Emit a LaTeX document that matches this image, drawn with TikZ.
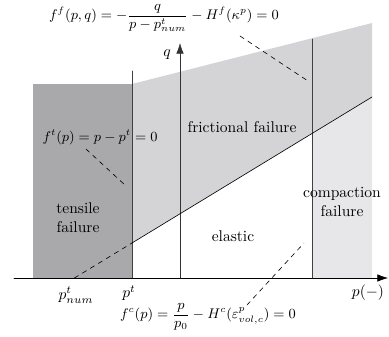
\documentclass[tikz,border=0pt]{standalone}
\usepackage{amsmath}
\usetikzlibrary{arrows.meta}
\definecolor{tensilegray}{RGB}{169,169,171}
\definecolor{frictgray}{RGB}{212,212,214}
\definecolor{compgray}{RGB}{231,231,233}
\begin{document}
\begin{tikzpicture}[>={Latex[length=2.4mm,width=1.7mm]}, x=0.226cm, y=0.226cm, line join=round, line cap=round]
	\tikzset{yieldfn/.style={font=\small, inner sep=1pt}}
	\def \xmin{-16.6}
	\def \xmax{20.8}
	\def \ymax{23.5}
	\useasboundingbox (-18,-5.8) rectangle (20.9,27.8);
	% failure zones
	\fill[tensilegray] (-14.7,0) rectangle (-4.8,19.4);
	\fill[frictgray] (-4.8,3.5) -- (-4.8,19.4) -- (19.2,25.5) -- (19.2,18.1) -- cycle;
	\fill[compgray] (13.2,0) -- (13.2,14.45) -- (19.2,18.1) -- (19.2,0) -- cycle;
	% axes
	\coordinate (pstart) at (\xmin,0);
	\coordinate (pend) at (\xmax,0);
	\coordinate (qstart) at (0,0);
	\coordinate (qend) at (0,\ymax);
	\draw[->] (pstart) -- (pend);
	\draw[->, black!80] (qstart) -- (qend);
	\node (qlabel) at (-1.3,22.3) {$q$};
	\node (plabel) at (18.8,-1.5) {$p(-)$};
	% tension cut-off and cap
	\coordinate (ptbot) at (-4.8,0);
	\coordinate (pttop) at (-4.8,20.7);
	\coordinate (pcbot) at (13.2,0);
	\coordinate (pctop) at (13.2,23.9);
	\draw[black!75, line width=0.6pt] (ptbot) -- (pttop);
	\draw[black!75, line width=0.6pt] (pcbot) -- (pctop);
	\node (ptlabel) at (-5.1,-1.5) {$p^t$};
	% frictional yield line
	\coordinate (pnum) at (-10.56,0);
	\coordinate (fkink) at (-4.8,3.5);
	\coordinate (fend) at (19.2,18.1);
	\draw[dashed] (pnum) -- (fkink);
	\draw (fkink) -- (fend);
	\node (pnumlabel) at (-10.4,-1.7) {$p^t_{num}$};
	% zone names
	\node[align=center] (tensile) at (-10.2,6.0) {tensile\\failure};
	\node (frictional) at (6.2,15.1) {frictional failure};
	\node[align=center] (compaction) at (16.2,7.6) {compaction\\failure};
	\node (elastic) at (5.3,4.2) {elastic};
	% yield functions
	\node[yieldfn] (ff) at (-1.6,26.0) {$f^f(p,q) = -\dfrac{q}{p-p^t_{num}} - H^f(\kappa^p) = 0$};
	\node[yieldfn] (ft) at (-8.0,14.1) {$f^t(p) = p - p^t = 0$};
	\node[yieldfn] (fc) at (2.8,-3.9) {$f^c(p) = \dfrac{p}{p_0} - H^c(\varepsilon^p_{vol,c}) = 0$};
	\coordinate (ffa) at (6.0,24.2);
	\coordinate (ffb) at (12.8,19.7);
	\coordinate (fta) at (-9.4,12.9);
	\coordinate (ftb) at (-5.4,9.2);
	\coordinate (fca) at (6.7,-2.7);
	\coordinate (fcb) at (12.4,3.5);
	\draw[dashed] (ffa) -- (ffb);
	\draw[dashed] (fta) -- (ftb);
	\draw[dashed] (fca) -- (fcb);
\end{tikzpicture}
\end{document}
